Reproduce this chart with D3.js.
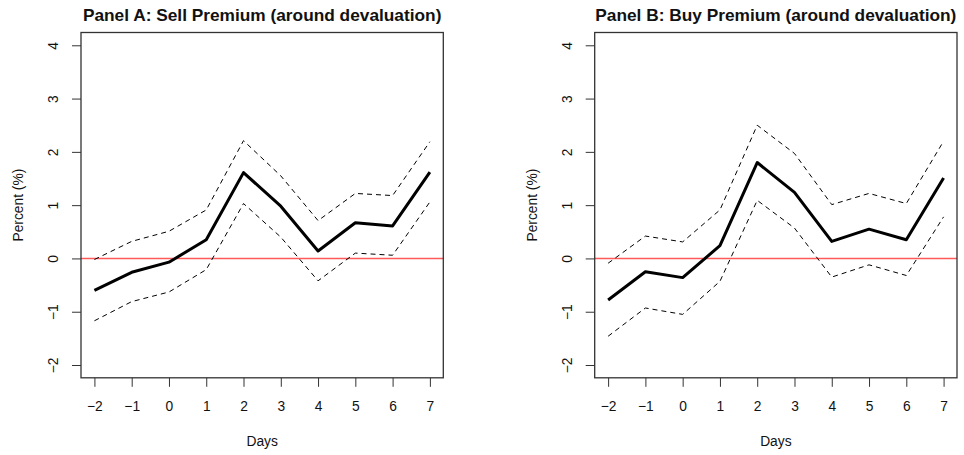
<!DOCTYPE html>
<html>
<head>
<meta charset="utf-8">
<script src="https://cdn.jsdelivr.net/npm/d3@7"></script>
<style>
  body { margin: 0; background: #fff; }
  svg { display: block; font-family: "Liberation Sans", Arial, sans-serif; }
</style>
</head>
<body>
<svg id="chart" width="964" height="455"></svg>
<script>
// event window (days around the devaluation)
var days = [-2, -1, 0, 1, 2, 3, 4, 5, 6, 7];
var yTicks = [-2, -1, 0, 1, 2, 3, 4];

// Panel A: sell premium, estimate with upper / lower bands
var sellEst   = [-0.60, -0.26, -0.07, 0.35, 1.61, 0.98, 0.14, 0.67, 0.61, 1.62];
var sellUpper = [-0.02, 0.32, 0.51, 0.91, 2.21, 1.55, 0.71, 1.22, 1.18, 2.19];
var sellLower = [-1.17, -0.81, -0.63, -0.21, 1.03, 0.40, -0.42, 0.10, 0.06, 1.06];

// Panel B: buy premium
var buyEst   = [-0.78, -0.25, -0.36, 0.24, 1.80, 1.24, 0.32, 0.55, 0.35, 1.51];
var buyUpper = [-0.09, 0.42, 0.31, 0.91, 2.50, 1.97, 1.01, 1.22, 1.03, 2.20];
var buyLower = [-1.46, -0.93, -1.05, -0.43, 1.09, 0.57, -0.35, -0.12, -0.32, 0.78];

var panels = [
    { title: 'Panel A: Sell Premium (around devaluation)', left: 81,    est: sellEst, upper: sellUpper, lower: sellLower },
    { title: 'Panel B: Buy Premium (around devaluation)',  left: 594.7, est: buyEst,  upper: buyUpper,  lower: buyLower }
];

var layout = {
    width: 362.3,
    top: 32.5,
    bottom: 377.8,
    tick: 9,
    font: '13.8px'
};

var svg = d3.select('#chart');

panels.forEach(function (p) {
    var x = d3.scaleLinear().domain([-2.36, 7.36]).range([p.left, p.left + layout.width]);
    var y = d3.scaleLinear().domain([-2.24, 4.24]).range([layout.bottom, layout.top]);
    var g = svg.append('g');

    // x axis
    var xAxis = g.append('g')
        .attr('transform', 'translate(0,' + layout.bottom + ')')
        .call(d3.axisBottom(x).tickValues(days).tickSize(layout.tick).tickFormat(d3.format('d')));
    xAxis.select('.domain').remove();
    xAxis.selectAll('line').attr('stroke', '#333');
    xAxis.selectAll('text')
        .attr('font-size', layout.font)
        .attr('fill', '#111')
        .attr('y', 33.4)
        .attr('dy', null);

    // y axis, labels rotated like base R
    var yAxis = g.append('g')
        .attr('transform', 'translate(' + p.left + ',0)')
        .call(d3.axisLeft(y).tickValues(yTicks).tickSize(layout.tick).tickFormat(d3.format('d')));
    yAxis.select('.domain').remove();
    yAxis.selectAll('line').attr('stroke', '#333');
    yAxis.selectAll('text')
        .attr('font-size', layout.font)
        .attr('fill', '#111')
        .attr('transform', 'rotate(-90)')
        .attr('x', 0)
        .attr('y', -27.5)
        .attr('dy', null)
        .attr('text-anchor', 'middle')
        .attr('dominant-baseline', 'central');

    // zero line
    g.append('line')
        .attr('x1', p.left).attr('x2', p.left + layout.width)
        .attr('y1', y(0)).attr('y2', y(0))
        .attr('stroke', '#ff3030')
        .attr('stroke-opacity', 0.8)
        .attr('stroke-width', 1.4);

    var line = d3.line()
        .x(function (d, i) { return x(days[i]); })
        .y(function (d) { return y(d); });

    [p.upper, p.lower].forEach(function (band) {
        g.append('path')
            .attr('d', line(band))
            .attr('fill', 'none')
            .attr('stroke', '#000')
            .attr('stroke-width', 1)
            .attr('stroke-dasharray', '5,4');
    });

    g.append('path')
        .attr('d', line(p.est))
        .attr('fill', 'none')
        .attr('stroke', '#000')
        .attr('stroke-width', 3)
        .attr('stroke-linejoin', 'round');

    // box
    g.append('rect')
        .attr('x', p.left).attr('y', layout.top)
        .attr('width', layout.width).attr('height', layout.bottom - layout.top)
        .attr('fill', 'none')
        .attr('stroke', '#333')
        .attr('stroke-width', 1.3);

    var cx = p.left + layout.width / 2;

    g.append('text')
        .attr('x', cx).attr('y', 20.5)
        .attr('text-anchor', 'middle')
        .attr('font-size', '17.3px')
        .attr('font-weight', 'bold')
        .attr('fill', '#111')
        .text(p.title);

    g.append('text')
        .attr('x', cx).attr('y', 446)
        .attr('text-anchor', 'middle')
        .attr('font-size', layout.font)
        .attr('fill', '#111')
        .text('Days');

    g.append('text')
        .attr('transform', 'translate(' + (p.left - 62.5) + ',' + ((layout.top + layout.bottom) / 2) + ') rotate(-90)')
        .attr('text-anchor', 'middle')
        .attr('dominant-baseline', 'central')
        .attr('font-size', layout.font)
        .attr('fill', '#111')
        .text('Percent (%)');
});
</script>
</body>
</html>
